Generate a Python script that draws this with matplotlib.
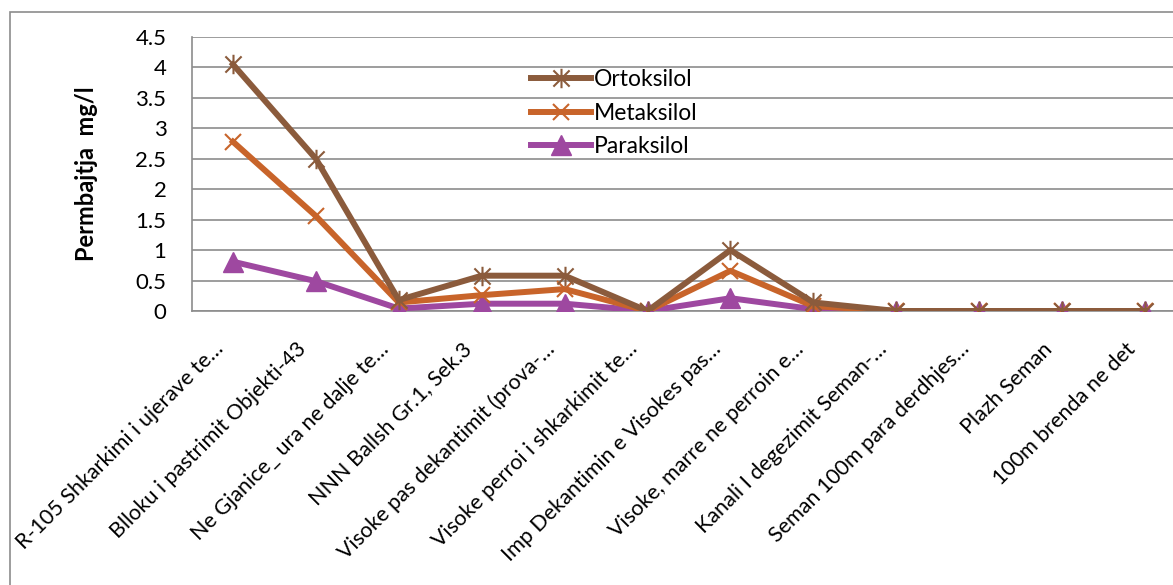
import matplotlib.pyplot as plt
import matplotlib.patches as mpatches
from matplotlib.path import Path
from matplotlib.transforms import ScaledTranslation

plt.rcParams['font.family'] = ['Lato', 'DejaVu Sans']

sites = [
    "R-105 Shkarkimi i ujerave te…",
    "Blloku i pastrimit Objekti-43",
    "Ne Gjanice_ ura ne dalje te…",
    "NNN Ballsh Gr.1, Sek.3",
    "Visoke pas dekantimit (prova-…",
    "Visoke perroi i shkarkimit te…",
    "Imp Dekantimin e Visokes pas…",
    "Visoke, marre ne perroin e…",
    "Kanali I degezimit Seman-…",
    "Seman 100m para derdhjes…",
    "Plazh Seman",
    "100m brenda ne det",
]
ortoksilol = [4.05, 2.5, 0.18, 0.58, 0.58, 0.0, 1.0, 0.14, 0.0, 0.0, 0.0, 0.0]
metaksilol = [2.78, 1.56, 0.14, 0.26, 0.36, 0.0, 0.66, 0.08, 0.0, 0.0, 0.0, 0.0]
paraksilol = [0.81, 0.49, 0.04, 0.12, 0.12, 0.0, 0.21, 0.03, 0.0, 0.0, 0.0, 0.0]

# Excel-style star: an "x" with a vertical bar through it
star = Path(
    [(-1, -1), (1, 1), (-1, 1), (1, -1), (0, -1.2), (0, 1.2)],
    [Path.MOVETO, Path.LINETO, Path.MOVETO, Path.LINETO, Path.MOVETO, Path.LINETO],
)

fig = plt.figure(figsize=(11.73, 5.85), dpi=100)
ax = fig.add_axes([191.5 / 1173, 274 / 585, 995 / 1173, 274 / 585])

x = list(range(len(sites)))
ax.plot(x, paraksilol, color='#9E48A0', lw=4.3, marker='^', ms=14,
        mec='#9E48A0', label='Paraksilol', zorder=3)
ax.plot(x, metaksilol, color='#C8642A', lw=4.3, marker='x', ms=11, mew=1.5,
        label='Metaksilol', zorder=4)
ax.plot(x, ortoksilol, color='#8B5B3C', lw=4.3, marker=star, ms=14, mew=1.5,
        label='Ortoksilol', zorder=5)

ax.set_xlim(-0.5, len(sites) - 0.5)
ax.set_ylim(0, 4.5)
ax.set_yticks([0, 0.5, 1, 1.5, 2, 2.5, 3, 3.5, 4, 4.5])
ax.set_yticklabels(['0', '0.5', '1', '1.5', '2', '2.5', '3', '3.5', '4', '4.5'])
ax.yaxis.grid(True, color='#8C8C8C', lw=1.2)
ax.set_axisbelow(True)
ax.tick_params(axis='y', length=0, labelsize=16, pad=18)
ax.tick_params(axis='x', length=0, labelsize=15.5, pad=0)
ax.set_xticks(x)
ax.set_xticklabels(sites, rotation=45, ha='right', va='center', rotation_mode='anchor')
shift = ScaledTranslation(-13 / 100, -35 / 100, fig.dpi_scale_trans)
for lbl in ax.get_xticklabels():
    lbl.set_transform(lbl.get_transform() + shift)

for side in ['top', 'right']:
    ax.spines[side].set_visible(False)
for side in ['left', 'bottom']:
    ax.spines[side].set_color('#8C8C8C')
    ax.spines[side].set_linewidth(1.2)

ax.set_ylabel('Permbajtja  mg/l', fontsize=17, fontweight='bold')
ax.yaxis.set_label_coords((98 - 191.5) / 995, 0.5)

handles, labels = ax.get_legend_handles_labels()
fig.legend(handles[::-1], labels[::-1], loc='upper left',
           bbox_to_anchor=(531 / 1173, 1 - 69 / 585), frameon=False,
           fontsize=16.5, handlelength=2.6, handletextpad=0.15,
           labelspacing=0.55, borderpad=0, borderaxespad=0)

# chart area border, running off the right and bottom edges
fig.patches.append(mpatches.Rectangle((10 / 1173, -0.2), 1.2, 1.2 - 12 / 585,
                                      transform=fig.transFigure, fill=False,
                                      edgecolor='#8C8C8C', lw=1.2))

fig.savefig('out.png', dpi=100)
